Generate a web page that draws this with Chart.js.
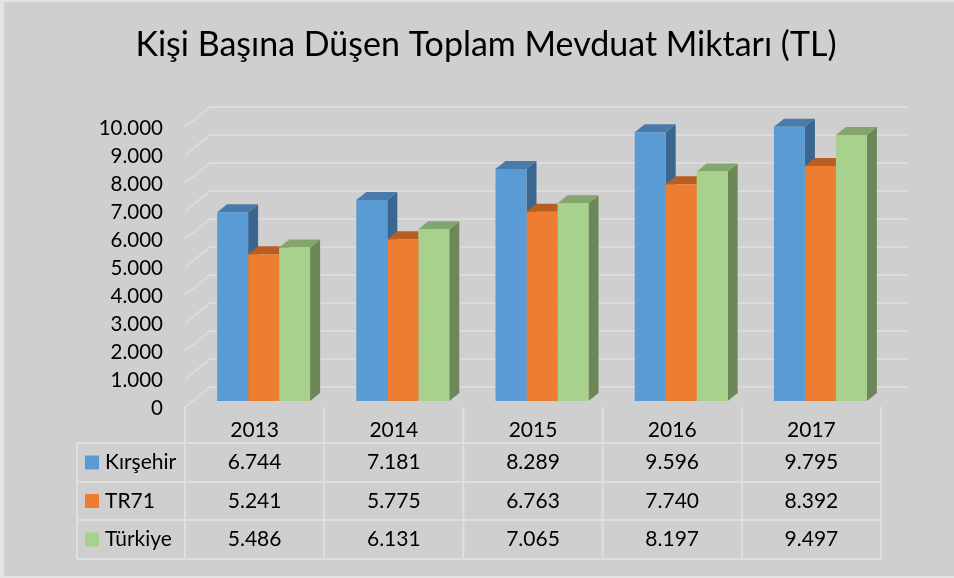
<!DOCTYPE html>
<html>
<head>
<meta charset="utf-8">
<script src="https://cdn.jsdelivr.net/npm/chart.js@4"></script>
<style>
  body { margin: 0; background: #d0cfd0; overflow: hidden; }
  #wrap { width: 954px; height: 578px; }
</style>
</head>
<body>
<div id="wrap"><canvas id="chart"></canvas></div>
<script>
const years = ['2013', '2014', '2015', '2016', '2017'];
const kirsehir = [6744, 7181, 8289, 9596, 9795];
const tr71 = [5241, 5775, 6763, 7740, 8392];
const turkiye = [5486, 6131, 7065, 8197, 9497];
const seriesNames = ['Kırşehir', 'TR71', 'Türkiye'];
const yTicks = [0, 1000, 2000, 3000, 4000, 5000, 6000, 7000, 8000, 9000, 10000];

const frontColors = ['#5b9bd5', '#ed7d31', '#a9d18e'];
const topColors = ['#4a7aa9', '#b95e22', '#84a56d'];
const sideColors = ['#3a6690', '#a3521c', '#6c8858'];

const FONT = 'Lato, "Open Sans", sans-serif';
const GRID = '#dfdfdf';

function fmt(n) {
    return String(n).replace(/\B(?=(\d{3})+(?!\d))/g, '.');
}

// bar depth offsets and back wall offsets (px)
const bar3d = { dx: 10, dy: 8 };
const wall = { dx: 25, front: 6, back: -14, shift: -9 };

const threeD = {
    id: 'threeD',
    beforeDraw(chart) {
        const ctx = chart.ctx;
        ctx.save();
        ctx.fillStyle = '#e3e3e3';
        ctx.fillRect(0, 0, chart.width, chart.height);
        ctx.fillStyle = '#d0cfd0';
        ctx.fillRect(4, 2, chart.width - 4, chart.height - 4);
        ctx.restore();
    },
    beforeDatasetsDraw(chart) {
        const ctx = chart.ctx;
        const y = chart.scales.y;
        const area = chart.chartArea;
        const fx = area.left + wall.shift;
        const bx = fx + wall.dx;
        const rx = area.right + wall.shift + wall.dx + 2;
        ctx.save();
        ctx.strokeStyle = GRID;
        ctx.lineWidth = 1.5;
        yTicks.forEach(v => {
            const py = y.getPixelForValue(v);
            ctx.beginPath();
            ctx.moveTo(fx, py + wall.front);
            ctx.lineTo(bx, py + wall.back);
            ctx.lineTo(rx, py + wall.back);
            ctx.stroke();
        });
        // side and top faces
        chart.data.datasets.forEach((ds, i) => {
            chart.getDatasetMeta(i).data.forEach(el => {
                const p = el.getProps(['x', 'y', 'base', 'width'], true);
                const l = p.x - p.width / 2, r = p.x + p.width / 2;
                ctx.fillStyle = sideColors[i];
                ctx.beginPath();
                ctx.moveTo(r, p.y);
                ctx.lineTo(r + bar3d.dx, p.y - bar3d.dy);
                ctx.lineTo(r + bar3d.dx, p.base - bar3d.dy);
                ctx.lineTo(r, p.base);
                ctx.closePath();
                ctx.fill();
                ctx.fillStyle = topColors[i];
                ctx.beginPath();
                ctx.moveTo(l, p.y);
                ctx.lineTo(l + bar3d.dx, p.y - bar3d.dy);
                ctx.lineTo(r + bar3d.dx, p.y - bar3d.dy);
                ctx.lineTo(r, p.y);
                ctx.closePath();
                ctx.fill();
            });
        });
        ctx.restore();
    },
    afterDraw(chart) {
        // data table under the axis
        const ctx = chart.ctx;
        const x = chart.scales.x;
        const area = chart.chartArea;
        const catW = (area.right - area.left) / years.length;
        const left = area.left + wall.shift;
        const right = left + catW * years.length;
        const b = area.bottom;
        const headTop = b + 6;
        const rows = [b + 42, b + 81, b + 119, b + 158];
        const tableLeft = 77;
        ctx.save();
        ctx.strokeStyle = GRID;
        ctx.lineWidth = 2;
        ctx.beginPath();
        for (let i = 0; i <= years.length; i++) {
            const lx = left + i * catW;
            ctx.moveTo(lx, headTop);
            ctx.lineTo(lx, rows[3]);
        }
        ctx.moveTo(tableLeft, rows[0]);
        ctx.lineTo(tableLeft, rows[3]);
        rows.forEach(ry => {
            ctx.moveTo(tableLeft, ry);
            ctx.lineTo(right, ry);
        });
        ctx.stroke();

        ctx.font = '21px ' + FONT;
        ctx.textBaseline = 'middle';
        const series = [kirsehir, tr71, turkiye];
        series.forEach((vals, r) => {
            const cy = (rows[r] + rows[r + 1]) / 2;
            ctx.fillStyle = frontColors[r];
            ctx.fillRect(85, cy - 7, 14, 14);
            ctx.fillStyle = '#000';
            ctx.textAlign = 'left';
            ctx.fillText(seriesNames[r], 105, cy);
            ctx.textAlign = 'center';
            vals.forEach((v, c) => {
                ctx.fillText(fmt(v), x.getPixelForValue(c) + wall.shift, cy);
            });
        });
        ctx.restore();
    }
};

new Chart(document.getElementById('chart'), {
    type: 'bar',
    data: {
        labels: years,
        datasets: [
            { label: seriesNames[0], data: kirsehir, backgroundColor: frontColors[0] },
            { label: seriesNames[1], data: tr71, backgroundColor: frontColors[1] },
            { label: seriesNames[2], data: turkiye, backgroundColor: frontColors[2] }
        ]
    },
    options: {
        responsive: true,
        maintainAspectRatio: false,
        animation: false,
        layout: { padding: { left: 18, right: 0, top: 0, bottom: 117 } },
        datasets: { bar: { categoryPercentage: 0.668, barPercentage: 1, borderWidth: 0 } },
        plugins: {
            legend: { display: false },
            tooltip: { enabled: false },
            title: {
                display: true,
                text: 'Kişi Başına Düşen Toplam Mevduat Miktarı (TL)',
                color: '#000',
                font: { family: FONT, size: 34, weight: 'normal', lineHeight: 1.2 },
                padding: { top: 24.6, bottom: 55.6 }
            }
        },
        scales: {
            x: {
                grid: { display: false },
                border: { display: false },
                ticks: { color: '#000', font: { family: FONT, size: 21 }, padding: 9, labelOffset: wall.shift },
                afterFit(scale) { scale.height = 60; }
            },
            y: {
                min: 0,
                max: 10000,
                grid: { display: false },
                border: { display: false },
                afterBuildTicks(scale) { scale.ticks = yTicks.map(v => ({ value: v })); },
                ticks: {
                    color: '#000',
                    font: { family: FONT, size: 20.5 },
                    padding: 23,
                    labelOffset: 7,
                    autoSkip: false,
                    callback: v => fmt(v)
                },
                afterFit(scale) { scale.width = 176; }
            },
            // empty right-hand axis that only reserves space
            yRight: {
                position: 'right',
                grid: { display: false },
                border: { display: false },
                ticks: { display: false },
                afterFit(scale) { scale.width = 64; }
            }
        }
    },
    plugins: [threeD]
});
</script>
</body>
</html>
